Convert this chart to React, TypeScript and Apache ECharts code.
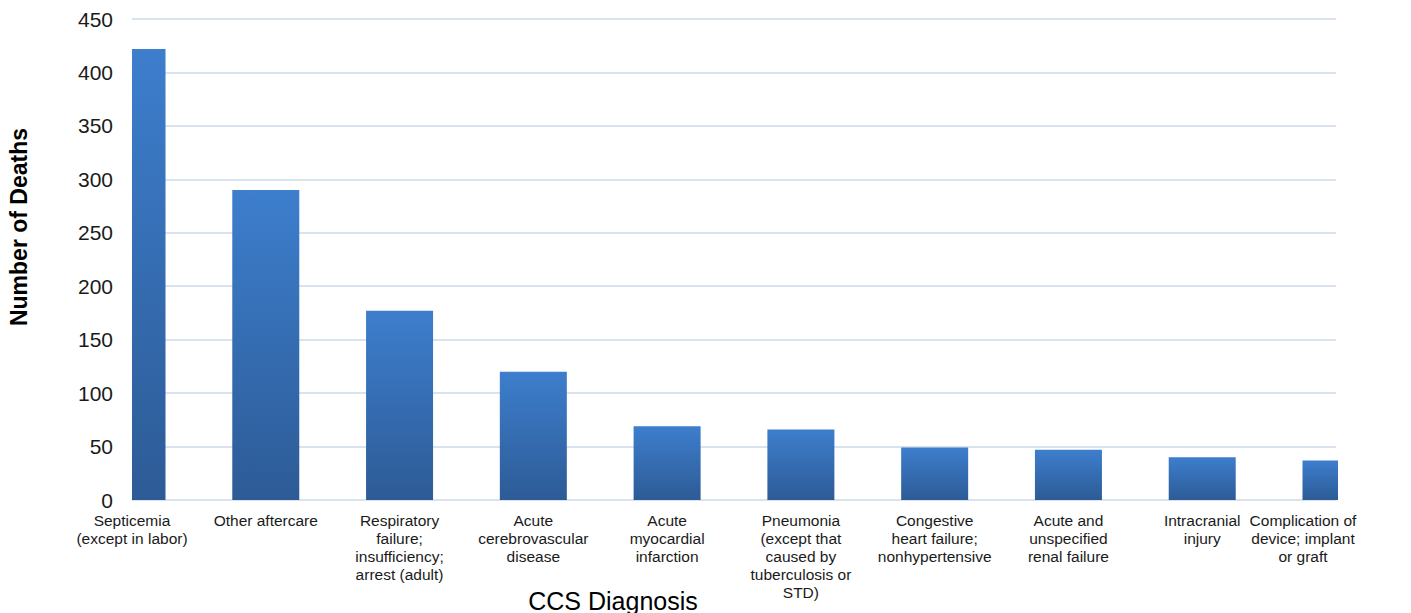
import React, { useEffect, useRef } from "react";
import * as echarts from "echarts";

const categories: string[] = [
  "Septicemia\n(except in labor)",
  "Other aftercare",
  "Respiratory\nfailure;\ninsufficiency;\narrest (adult)",
  "Acute\ncerebrovascular\ndisease",
  "Acute\nmyocardial\ninfarction",
  "Pneumonia\n(except that\ncaused by\ntuberculosis or\nSTD)",
  "Congestive\nheart failure;\nnonhypertensive",
  "Acute and\nunspecified\nrenal failure",
  "Intracranial\ninjury",
  "Complication of\ndevice; implant\nor graft",
];

const deaths: number[] = [422, 290, 177, 120, 69, 66, 49, 47, 40, 37];

const yMin = 0;
const yMax = 450;
const yStep = 50;

const xTitle = "CCS Diagnosis";
const yTitle = "Number of Deaths";

const FONT = "'Liberation Sans', Arial, sans-serif";

export default function App() {
  const ref = useRef<HTMLDivElement>(null);

  useEffect(() => {
    if (!ref.current) return;
    const chart = echarts.init(ref.current, null, { renderer: "svg" });
    const lastIndex = categories.length - 1;
    const barW = 67;
    chart.setOption({
      animation: false,
      backgroundColor: "#ffffff",
      grid: {
        left: 132,
        right: 75,
        top: 19,
        bottom: 113,
        containLabel: false,
        outerBoundsMode: "none",
      },
      xAxis: {
        type: "category",
        data: categories,
        boundaryGap: false,
        axisLine: { show: true, lineStyle: { color: "#d9e3f0", width: 2 } },
        axisTick: { show: false },
        splitLine: { show: false },
        axisLabel: {
          interval: 0,
          margin: 11,
          color: "#1a1a1a",
          fontFamily: FONT,
          fontSize: 15.5,
          lineHeight: 18,
          hideOverlap: false,
          formatter: (value: string, index: number) =>
            index === lastIndex
              ? value
                  .split("\n")
                  .map((l) => `{last|${l}}`)
                  .join("\n")
              : value,
          rich: {
            last: {
              fontFamily: FONT,
              fontSize: 15.5,
              lineHeight: 18,
              color: "#1a1a1a",
              padding: [0, 66, 0, 0],
            },
          },
        },
      },
      yAxis: {
        type: "value",
        min: yMin,
        max: yMax,
        interval: yStep,
        axisLine: { show: false },
        axisTick: { show: false },
        splitLine: { show: true, lineStyle: { color: "#d9e3f0", width: 2 } },
        axisLabel: {
          margin: 19,
          color: "#1a1a1a",
          fontFamily: FONT,
          fontSize: 21,
        },
      },
      series: [
        {
          type: "custom",
          data: deaths.map((v, i) => [i, v]),
          encode: { x: 0, y: 1 },
          renderItem: (params: any, api: any) => {
            const top = api.coord([api.value(0), api.value(1)]);
            const base = api.coord([api.value(0), 0]);
            const cs = params.coordSys;
            const rect = echarts.graphic.clipRectByRect(
              {
                x: top[0] - barW / 2,
                y: top[1],
                width: barW,
                height: base[1] - top[1],
              },
              { x: cs.x, y: cs.y, width: cs.width + 2, height: cs.height }
            );
            if (!rect) return null;
            return {
              type: "rect",
              shape: rect,
              style: {
                fill: new echarts.graphic.LinearGradient(0, 0, 0, 1, [
                  { offset: 0, color: "#3d7ecd" },
                  { offset: 1, color: "#2d5b96" },
                ]),
              },
            };
          },
        },
      ],
      graphic: [
        {
          type: "text",
          x: 19,
          y: 227,
          rotation: Math.PI / 2,
          style: {
            text: yTitle,
            fontFamily: FONT,
            fontSize: 23,
            fontWeight: "bold",
            fill: "#000000",
            align: "center",
            verticalAlign: "middle",
          },
        },
        {
          type: "text",
          x: 613,
          y: 601,
          style: {
            text: xTitle,
            fontFamily: FONT,
            fontSize: 25,
            fill: "#000000",
            align: "center",
            verticalAlign: "middle",
          },
        },
      ],
    });
    return () => chart.dispose();
  }, []);

  return (
    <div
      ref={ref}
      style={{ position: "fixed", left: 0, top: 0, width: 1411, height: 613 }}
    />
  );
}
